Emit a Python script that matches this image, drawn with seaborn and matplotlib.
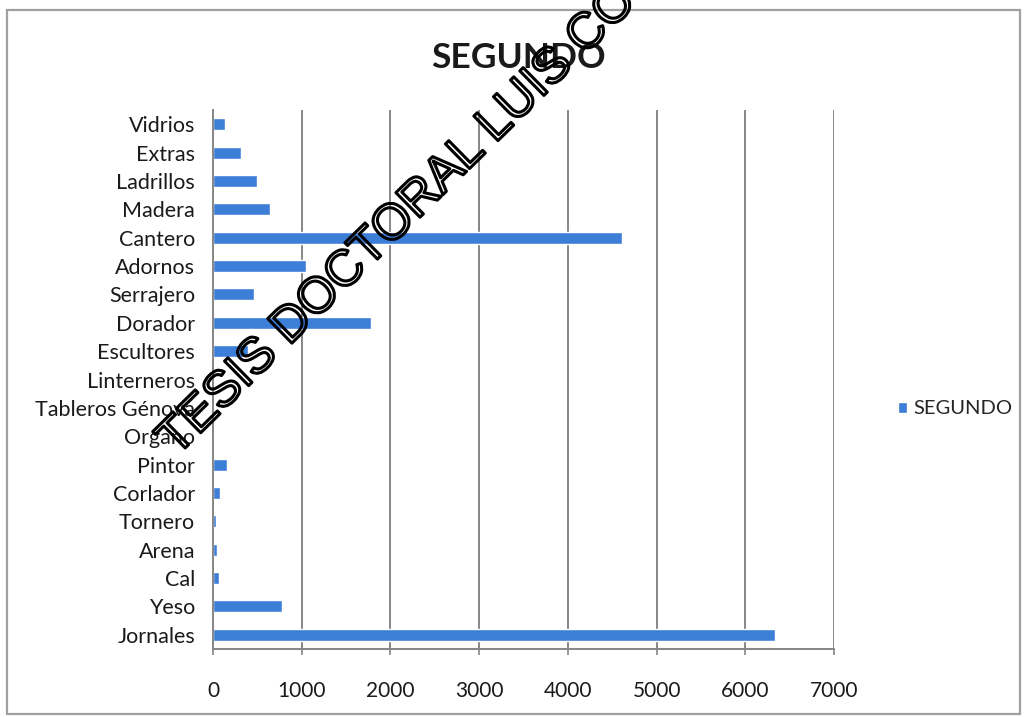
import matplotlib
matplotlib.use("Agg")
import matplotlib.pyplot as plt
import matplotlib.patheffects as pe
from matplotlib.patches import Rectangle
import seaborn as sns
import pandas as pd
import numpy as np

# Cost items, listed top to bottom as shown on the chart
categories = ["Vidrios", "Extras", "Ladrillos", "Madera", "Cantero", "Adornos",
              "Serrajero", "Dorador", "Escultores", "Linterneros", "Tableros Génova",
              "Organo", "Pintor", "Corlador", "Tornero", "Arena", "Cal", "Yeso",
              "Jornales"]
segundo = [130, 315, 495, 640, 4610, 1050, 465, 1780, 390, 0, 0, 0, 155, 80,
           30, 40, 70, 775, 6340]
x_ticks = [0, 1000, 2000, 3000, 4000, 5000, 6000, 7000]
series_name = "SEGUNDO"

df = pd.DataFrame({"partida": categories, "valor": segundo, "serie": series_name})

sns.set_theme(style="white")
plt.rcParams["font.family"] = ["Lato", "DejaVu Sans"]

W, H = 1024, 717
fig = plt.figure(figsize=(W / 100, H / 100), dpi=100)
ax = fig.add_axes([213 / W, 1 - 649 / H, (834 - 213) / W, (649 - 110) / H])

bar_color = "#3d7ed8"
sns.barplot(data=df, x="valor", y="partida", hue="serie", orient="h",
            palette=[bar_color], width=0.42, ax=ax, order=categories,
            legend=True, saturation=1)

ax.set_xlim(0, 7000)
ax.set_ylim(len(categories) - 0.5, -0.5)
ax.set_xticks(x_ticks)
ax.set_xticklabels([str(t) for t in x_ticks], fontsize=15, color="#1a1a1a")
ax.set_xlabel("")
ax.set_ylabel("")

# Category labels centred on bars, tick marks between categories
ax.set_yticks(range(len(categories)))
ax.set_yticklabels(categories, fontsize=15.5, color="#1a1a1a")
ax.tick_params(axis="y", which="major", length=0, pad=13)
ax.set_yticks(np.arange(-0.5, len(categories), 1), minor=True)
ax.tick_params(axis="y", which="minor", length=4.5, width=1.2, color="#868686",
               direction="out")
ax.tick_params(axis="x", which="major", length=4, width=1.2, color="#868686",
               direction="out", pad=19, bottom=True)

ax.grid(axis="x", color="#868686", linewidth=1.4)
ax.grid(axis="y", visible=False)
ax.set_axisbelow(True)
for side in ["top", "right"]:
    ax.spines[side].set_visible(False)
for side in ["left", "bottom"]:
    ax.spines[side].set_color("#868686")
    ax.spines[side].set_linewidth(1.4)

# Legend on the right side
handles, labels = ax.get_legend_handles_labels()
ax.legend(handles, labels, loc="center left", bbox_to_anchor=(898 / W, 1 - 409 / H),
          bbox_transform=fig.transFigure, frameon=False, fontsize=14.5,
          borderpad=0, borderaxespad=0,
          handlelength=0.45, handleheight=0.45, handletextpad=0.3)

fig.text(518 / W, 1 - 58 / H, "SEGUNDO", ha="center", va="center",
         fontsize=25.5, fontweight="bold", color="#1a1a1a")

# Chart frame
fig.patches.append(Rectangle((7 / W, 3 / H), 1013 / W, 704 / H,
                             transform=fig.transFigure, fill=False,
                             edgecolor="#a0a0a0", linewidth=1.6))

# Hollow diagonal stamp across the plot
fig.text(176 / W, 1 - 457 / H, "TESIS DOCTORAL LUIS CO", rotation=44.5,
         rotation_mode="anchor", ha="left", va="baseline",
         family=["Liberation Sans", "DejaVu Sans"], fontsize=36, color="none",
         path_effects=[pe.withStroke(linewidth=2.2, foreground="black")])

fig.savefig("out.png", dpi=100)
